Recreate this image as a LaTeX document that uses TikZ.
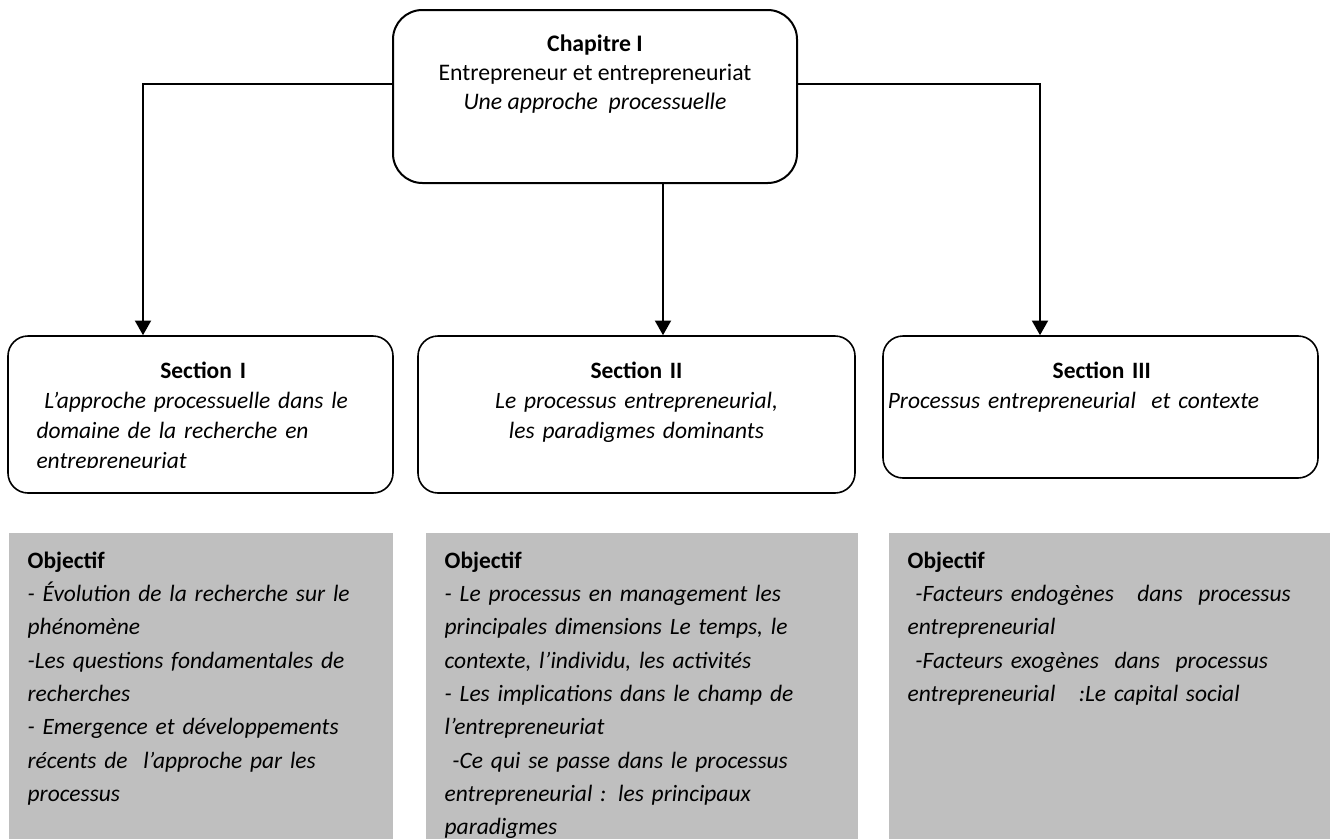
\documentclass[tikz,border=0pt]{standalone}
\usepackage{fontspec}
\setmainfont{Carlito}
\usetikzlibrary{positioning,arrows.meta}
\definecolor{objgray}{HTML}{BFBFBF}

\begin{document}
\begin{tikzpicture}[x=0.75pt,y=-0.75pt,
    chapbox/.style={draw,line width=1.5pt,rounded corners=22pt,minimum width=303pt,minimum height=129.75pt},
    secbox/.style={draw,line width=1.2pt,rounded corners=15pt,minimum height=117.75pt},
    objbox/.style={fill=objgray,inner sep=0pt,minimum height=234pt},
    boxtext/.style={inner sep=0pt,font=\fontsize{17.6}{22.5}\selectfont},
    objtext/.style={inner sep=0pt,align=left,font=\fontsize{17.6}{25}\selectfont},
    link/.style={line width=1.5pt},
    arrow/.style={link,-{Triangle[width=12pt,length=11pt]}}]
  \useasboundingbox (0,0) rectangle (1336,839);

  \node[chapbox] (chap) at (595,96.5) {};
  \node[boxtext,align=center,font=\fontsize{17.8}{22}\selectfont,below=19pt of chap.north] (chapt)
    {\textbf{Chapitre I}\\Entrepreneur et entrepreneuriat\\\textit{Une approche~ processuelle}};

  \node[secbox,minimum width=288.75pt] (s1) at (200.5,414.5) {};
  \node[secbox,minimum width=327.75pt] (s2) at (636.5,414.5) {};
  \node[secbox,minimum width=326.25pt,minimum height=106.5pt] (s3) at (1100.5,407) {};

  \begin{scope}
    \clip (s1.north west) rectangle ([yshift=19.5pt]s1.south east);
    \node[boxtext,text width=250pt,align=left,below=20pt of s1.north,xshift=2pt] (s1t)
      {\makebox[250pt]{\bfseries Section I}\\\itshape\ L’approche processuelle dans le\\domaine de la recherche en\\entrepreneuriat};
  \end{scope}
  \node[boxtext,text width=300pt,align=center,below=20pt of s2.north] (s2t)
    {\textbf{Section II}\\\itshape Le processus entrepreneurial,\\les paradigmes dominants};
  \node[boxtext,text width=321pt,align=left,below=20pt of s3.north,xshift=1pt] (s3t)
    {\makebox[321pt]{\bfseries Section III}\\\itshape Processus entrepreneurial~ et contexte};

  \coordinate (k1) at (143,84);
  \coordinate (k2) at (663,0);
  \coordinate (k3) at (1040,84);
  \draw[arrow] (chap.west |- k1) -- (k1) -- (k1 |- s1.north);
  \draw[arrow] (k2 |- chap.south) -- (k2 |- s2.north);
  \draw[arrow] (chap.east |- k3) -- (k3) -- (k3 |- s3.north);

  \node[objbox,minimum width=288pt] (o1) at (201,689) {};
  \node[objbox,minimum width=324pt] (o2) at (642,689) {};
  \node[objbox,minimum width=330.75pt] (o3) at (1109.5,689) {};

  \node[objtext,text width=270pt,below right=14pt and 14pt of o1.north west] (o1t)
    {\textbf{Objectif}\\\itshape - Évolution de la recherche sur le\\phénomène\\-Les questions fondamentales de\\recherches\\- Emergence et développements\\récents de~ l’approche par les\\processus};
  \node[objtext,text width=300pt,below right=14pt and 14pt of o2.north west] (o2t)
    {\textbf{Objectif}\\\itshape - Le processus en management les\\principales dimensions Le temps, le\\contexte, l’individu, les activités\\- Les implications dans le champ de\\l’entrepreneuriat\\\ -Ce qui se passe dans le processus\\entrepreneurial : les principaux\\paradigmes};
  \node[objtext,text width=310pt,below right=14pt and 14pt of o3.north west] (o3t)
    {\textbf{Objectif}\\\itshape\ -Facteurs endogènes~~ dans~ processus\\entrepreneurial\\\ -Facteurs exogènes~ dans~ processus\\entrepreneurial~~ :Le capital social};
\end{tikzpicture}
\end{document}
